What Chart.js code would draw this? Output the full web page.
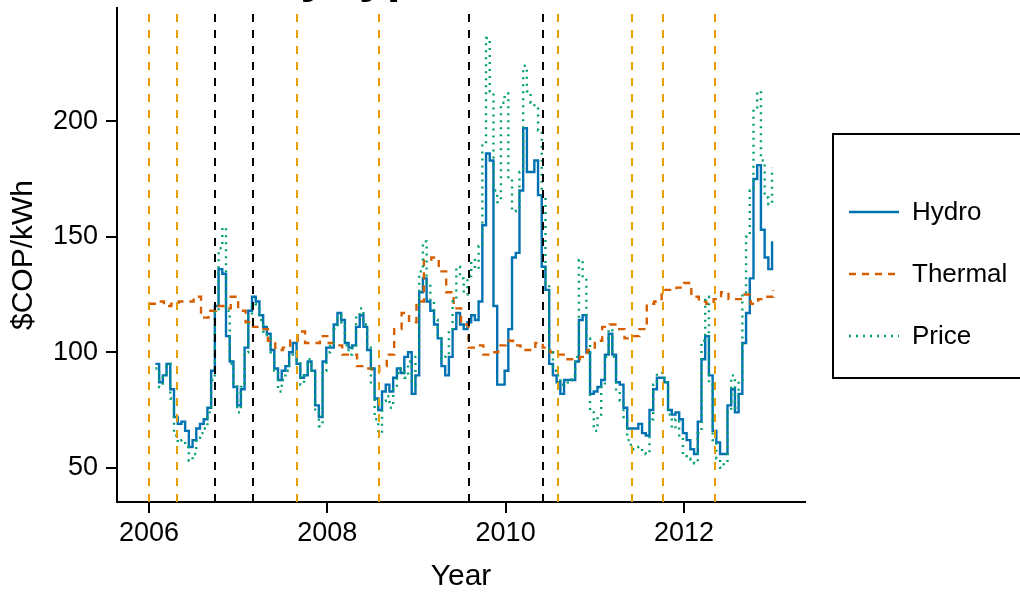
<!DOCTYPE html>
<html>
<head>
<meta charset="utf-8">
<title>Hydro / Thermal / Price</title>
<script src="https://cdn.jsdelivr.net/npm/chart.js@4/dist/chart.umd.min.js"></script>
<style>
  html, body { margin: 0; padding: 0; background: #fff; }
  #chart { display: block; }
</style>
</head>
<body>
<canvas id="chart" width="1020" height="592"></canvas>
<script>
// semi-monthly series, first point early Feb 2006
const seriesStart = 2006.072;
const seriesStep = 1 / 24;

const hydro = [
  95, 87, 90, 95, 84, 72, 69, 70, 66, 59,
  62, 67, 69, 71, 76, 92, 120, 136, 134, 107,
  96, 85, 77, 84, 102, 118, 124, 122, 116, 111,
  108, 101, 93, 88, 92, 94, 100, 104, 95, 89,
  90, 96, 92, 77, 72, 96, 102, 102, 112, 117,
  114, 104, 102, 103, 111, 116, 111, 101, 93, 80,
  75, 83, 86, 83, 89, 93, 91, 98, 100, 82,
  90, 126, 132, 122, 118, 112, 106, 94, 90, 98,
  110, 117, 112, 110, 113, 116, 114, 122, 155, 186,
  183, 120, 86, 86, 92, 110, 141, 143, 170, 197,
  178, 178, 183, 168, 137, 127, 95, 90, 87, 82,
  88, 88, 88, 96, 114, 116, 100, 82, 83, 85,
  88, 99, 108, 99, 87, 86, 76, 67, 67, 67,
  69, 65, 64, 75, 84, 89, 89, 87, 75, 73,
  74, 71, 65, 62, 58, 56, 70, 97, 107, 90,
  66, 61, 56, 56, 77, 84, 74, 82, 104, 117,
  132, 175, 181, 153, 141, 136, 148
];

const price = [
  93, 85, 90, 95, 80, 64, 61, 62, 59, 53,
  56, 63, 65, 67, 74, 88, 118, 145, 154, 118,
  95, 86, 74, 85, 100, 116, 121, 119, 114, 109,
  106, 100, 92, 83, 88, 92, 99, 100, 96, 86,
  90, 97, 92, 74, 68, 92, 100, 104, 110, 116,
  113, 103, 99, 103, 115, 119, 112, 102, 86, 71,
  65, 79, 81, 76, 84, 91, 93, 89, 96, 86,
  98, 135, 148, 130, 122, 114, 106, 97, 98, 110,
  122, 137, 132, 125, 133, 140, 136, 146, 190, 236,
  213, 170, 165, 208, 212, 175, 161, 162, 178, 224,
  213, 208, 206, 196, 168, 130, 100, 92, 90, 86,
  86, 88, 90, 98, 140, 132, 106, 75, 66, 73,
  86, 98, 110, 98, 83, 79, 72, 62, 58, 58,
  59, 57, 56, 71, 86, 91, 91, 87, 73, 67,
  71, 63, 55, 54, 53, 52, 65, 105, 124, 86,
  62, 54, 50, 52, 74, 90, 76, 88, 125, 150,
  170, 206, 213, 183, 167, 164, 180
];

// monthly series from Jan 2006
const thermalStart = 2006.0;
const thermalStep = 1 / 12;
const thermal = [
  121, 122, 120, 121, 122, 122, 124, 115, 118, 120,
  119, 124, 118, 113, 111, 110, 105, 101, 102, 105,
  109, 104, 104, 107, 104, 103, 99, 99, 94, 93,
  92, 94, 99, 110, 117, 113, 122, 140, 141, 135,
  126, 119, 112, 102, 103, 99, 100, 103, 105, 103,
  101, 101, 104, 102, 100, 99, 97, 97, 98, 101,
  105, 111, 112, 110, 106, 107, 110, 121, 122, 127,
  127, 128, 130, 124, 122, 121, 123, 126, 123, 123,
  125, 121, 123, 124, 127
];

// event dates marked with vertical lines
const orangeEvents = [2006.0, 2006.314, 2007.655, 2008.577, 2010.593, 2011.423, 2011.76, 2012.343];
const blackEvents = [2006.74, 2007.163, 2009.586, 2010.416];

const xTicks = [2006, 2008, 2010, 2012];
const yTicks = [50, 100, 150, 200];

const seriesNames = ['Hydro', 'Thermal', 'Price'];
const seriesColors = ['#0072B2', '#D55E00', '#009E73'];
const seriesDash = [[], [7, 6], [2, 5]];

const FONT = '"Liberation Sans", Arial, Helvetica, sans-serif';

function toPoints(values, start, step) {
    return values.map((v, i) => ({ x: start + i * step, y: v }));
}

// keep the plot box exactly where the reference has it
function noScalePadding(s) {
    s.paddingTop = 0;
    s.paddingBottom = 0;
    s.paddingLeft = 0;
    s.paddingRight = 0;
}

const eventLines = {
    id: 'eventLines',
    afterDatasetsDraw(chart) {
        const { ctx, chartArea, scales } = chart;
        ctx.save();
        ctx.beginPath();
        ctx.rect(chartArea.left, chartArea.top, chartArea.width, chartArea.height);
        ctx.clip();
        ctx.lineWidth = 2;
        ctx.setLineDash([8, 8]);
        ctx.lineDashOffset = 10;
        const draw = (dates, color) => {
            ctx.strokeStyle = color;
            dates.forEach(d => {
                const px = Math.round(scales.x.getPixelForValue(d));
                ctx.beginPath();
                ctx.moveTo(px, chartArea.top);
                ctx.lineTo(px, chartArea.bottom);
                ctx.stroke();
            });
        };
        draw(orangeEvents, '#E69F00');
        draw(blackEvents, '#000000');
        ctx.restore();
    }
};

const boxLegend = {
    id: 'boxLegend',
    afterDraw(chart) {
        const ctx = chart.ctx;
        ctx.save();
        ctx.lineWidth = 2;
        ctx.strokeStyle = '#000';
        ctx.setLineDash([]);
        ctx.strokeRect(833, 134, 220, 244);
        ctx.font = '26px ' + FONT;
        ctx.fillStyle = '#000';
        ctx.textBaseline = 'middle';
        ctx.textAlign = 'left';
        seriesNames.forEach((name, i) => {
            const y = 212 + i * 62;
            ctx.strokeStyle = seriesColors[i];
            ctx.lineWidth = 2.4;
            ctx.setLineDash(seriesDash[i]);
            ctx.beginPath();
            ctx.moveTo(849, y);
            ctx.lineTo(899, y);
            ctx.stroke();
            ctx.fillText(name, 912, y + 1);
        });
        ctx.restore();
    }
};

// main title sits mostly above the canvas, only the descenders show
const cutTitle = {
    id: 'cutTitle',
    afterDraw(chart) {
        const ctx = chart.ctx;
        ctx.save();
        ctx.font = 'bold 50px ' + FONT;
        ctx.fillStyle = '#000';
        ctx.textBaseline = 'alphabetic';
        ctx.textAlign = 'left';
        const lead = 'Costs ';
        ctx.fillText(lead + 'by type', 270 - ctx.measureText(lead).width, -8);
        ctx.restore();
    }
};

const ctx = document.getElementById('chart').getContext('2d');

new Chart(ctx, {
    type: 'line',
    data: {
        datasets: [
            {
                label: 'Hydro',
                data: toPoints(hydro, seriesStart, seriesStep),
                borderColor: seriesColors[0],
                borderWidth: 2.4,
                stepped: true,
                order: 3
            },
            {
                label: 'Thermal',
                data: toPoints(thermal, thermalStart, thermalStep),
                borderColor: seriesColors[1],
                borderWidth: 2.4,
                borderDash: seriesDash[1],
                stepped: true,
                order: 2
            },
            {
                label: 'Price',
                data: toPoints(price, seriesStart, seriesStep),
                borderColor: seriesColors[2],
                borderWidth: 2.4,
                borderDash: seriesDash[2],
                stepped: true,
                order: 1
            }
        ]
    },
    options: {
        responsive: false,
        animation: false,
        devicePixelRatio: 1,
        layout: { padding: { left: 0, top: 8, right: 215, bottom: 0 } },
        elements: { point: { radius: 0 }, line: { fill: false, tension: 0 } },
        plugins: {
            legend: { display: false },
            tooltip: { enabled: false }
        },
        scales: {
            x: {
                type: 'linear',
                min: 2005.641,
                max: 2013.358,
                afterBuildTicks: s => { s.ticks = xTicks.map(v => ({ value: v })); },
                afterFit: s => { s.height = 90; noScalePadding(s); },
                grid: { drawOnChartArea: false, drawTicks: true, tickLength: 11, color: '#000', lineWidth: 2 },
                border: { display: true, color: '#000', width: 2 },
                ticks: {
                    autoSkip: false,
                    maxRotation: 0,
                    padding: 4,
                    color: '#000',
                    font: { family: FONT, size: 27 },
                    callback: v => String(v)
                },
                title: {
                    display: true,
                    text: 'Year',
                    color: '#000',
                    font: { family: FONT, size: 30, lineHeight: 1 },
                    padding: { top: 0, bottom: 0 }
                }
            },
            y: {
                min: 35.2,
                max: 249,
                afterBuildTicks: s => { s.ticks = yTicks.map(v => ({ value: v })); },
                afterFit: s => { s.width = 117; noScalePadding(s); },
                grid: { drawOnChartArea: false, drawTicks: true, tickLength: 11, color: '#000', lineWidth: 2 },
                border: { display: true, color: '#000', width: 2 },
                ticks: {
                    padding: 8,
                    color: '#000',
                    font: { family: FONT, size: 27 },
                    callback: v => String(v)
                },
                title: {
                    display: true,
                    text: '$COP/kWh',
                    color: '#000',
                    font: { family: FONT, size: 30, lineHeight: 1 },
                    padding: { top: 9, bottom: 0 }
                }
            }
        }
    },
    plugins: [eventLines, boxLegend, cutTitle]
});
</script>
</body>
</html>
